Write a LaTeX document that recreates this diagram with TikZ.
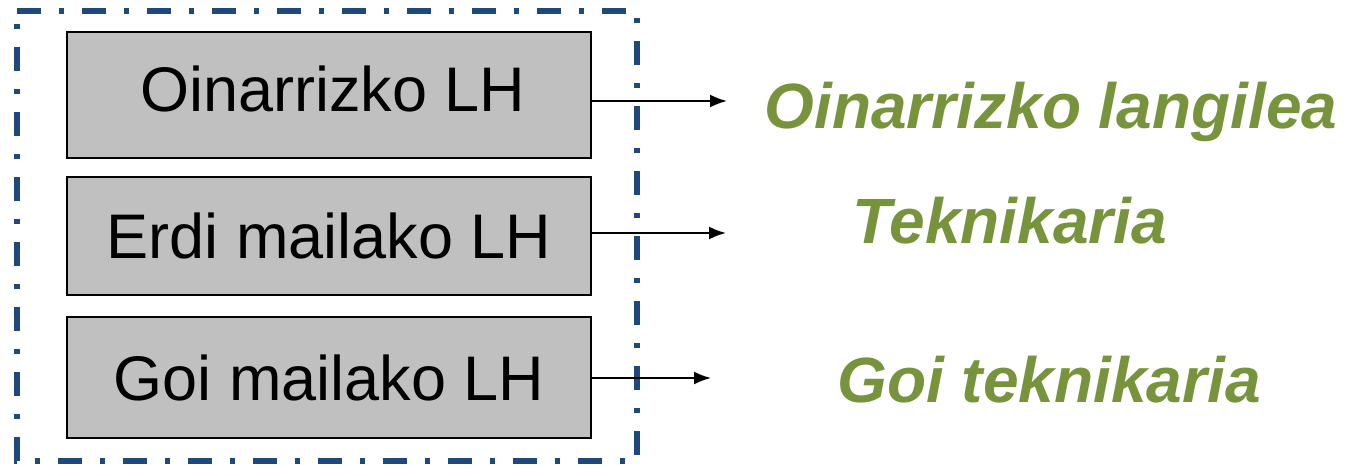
\documentclass[tikz,border=0pt]{standalone}
\usepackage{fontspec}
\setmainfont{Liberation Sans}
\usetikzlibrary{arrows.meta}
\definecolor{frameblue}{HTML}{1F497D}
\definecolor{boxgray}{HTML}{C0C0C0}
\definecolor{jobgreen}{HTML}{77933C}

\begin{document}
\begin{tikzpicture}[x=1pt, y=-1pt,
    lhbox/.style={draw, line width=2pt, fill=boxgray, inner sep=0pt,
                  minimum width=524pt, font=\fontsize{63}{76}\selectfont},
    job/.style={anchor=base, text=jobgreen,
                font=\fontsize{64}{77}\selectfont\bfseries\itshape},
    link/.style={line width=2pt, arrows={-Latex[length=17pt, width=13pt]}}]
      \useasboundingbox (0, 0) rectangle (1351, 465);

      % Dash-dot frame round the levels.
      \draw [frameblue, line width=5.5pt,
             dash pattern=on 24pt off 18pt on 5pt off 18pt]
            (17, 11) -- (637, 11) -- (637, 461) -- (17, 461) -- cycle;

      % Levels.
      \node [lhbox, minimum height=126pt, text depth=12pt] (basic) at (329, 95)
            {\hspace*{8pt}Oinarrizko LH};
      \node [lhbox, minimum height=118pt] (middle) at (329, 236)
            {Erdi mailako LH};
      \node [lhbox, minimum height=121pt] (high) at (329, 377.5)
            {Goi mailako LH};

      % Jobs.
      \node [job] (worker) at (1051, 129) {Oinarrizko langilea};
      \node [job] (tech) at (1010, 243) {Teknikaria};
      \node [job] (hightech) at (1049, 402) {Goi teknikaria};

      % Arrows.
      \coordinate (basictip) at (727, 101);
      \coordinate (middletip) at (726, 233);
      \coordinate (hightip) at (711, 378);
      \draw [link] (basic.east |- basictip) -- (basictip);
      \draw [link] (middle.east |- middletip) -- (middletip);
      \draw [link] (high.east |- hightip) -- (hightip);
\end{tikzpicture}
\end{document}
